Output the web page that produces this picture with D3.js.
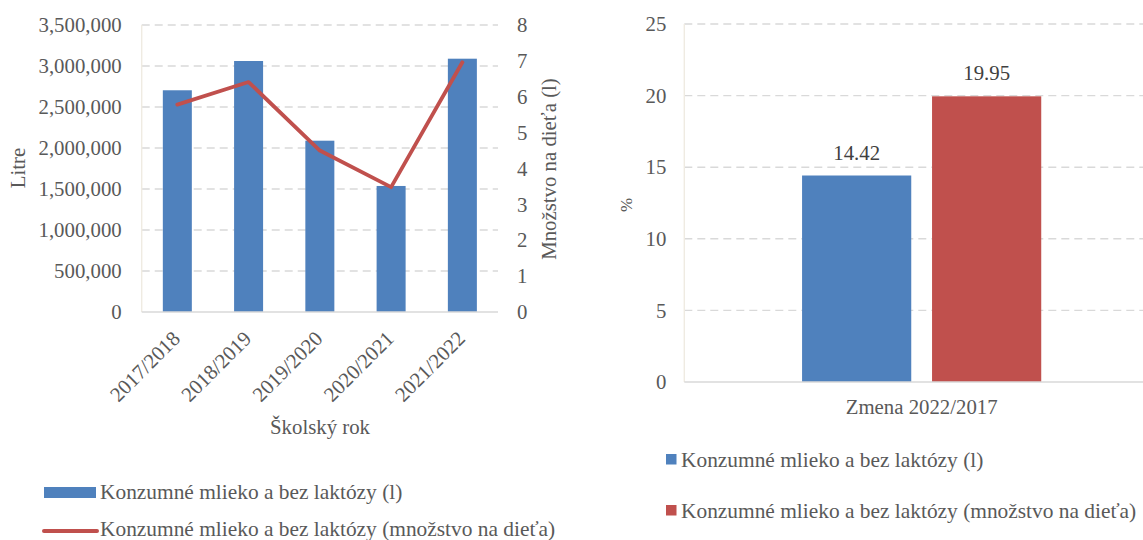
<!DOCTYPE html>
<html><head><meta charset="utf-8">
<script src="https://cdn.jsdelivr.net/npm/d3@7"></script>
<style>body{margin:0;background:#fff}svg{display:block}svg text{font-family:"Liberation Serif","Tinos","Times New Roman","DejaVu Serif",serif !important}</style>
</head><body>
<svg id="c" width="1143" height="540"></svg>
<script>
const years = ["2017/2018","2018/2019","2019/2020","2020/2021","2021/2022"];
const litres = [2704000,3061000,2089000,1537000,3089000];
const perChild = [5.78,6.41,4.50,3.48,6.96];
const leftTicks = [0,500000,1000000,1500000,2000000,2500000,3000000,3500000];
const rightTicks = [0,1,2,3,4,5,6,7,8];
const changeCats = ["Zmena 2022/2017"];
const changeSeries = ["Konzumné mlieko a bez laktózy (l)","Konzumné mlieko a bez laktózy (množstvo na dieťa)"];
const changeValues = [14.42,19.95];
const pctTicks = [0,5,10,15,20,25];

const BLUE="#4f81bd", RED="#c0504d", GRID="#d9d9d9", TXT="#595959", AXL="#efebe2";
const FF = '"Liberation Serif", Tinos, "Times New Roman", "DejaVu Serif", serif';
const FS = 20.8, FSLEG = 21.4;
const svg = d3.select("#c");

// ---- Left chart ----
const L = {x0:141.7, x1:498, y0:312, y1:25};
const xL = d3.scaleBand().domain(years).range([L.x0,L.x1]).paddingInner(0.593).paddingOuter(0.2965);
const yL = d3.scaleLinear().domain([0,3500000]).range([L.y0,L.y1]);
const yR = d3.scaleLinear().domain([0,8]).range([L.y0,L.y1]);
const gL = svg.append("g");
gL.selectAll("line.g").data(leftTicks.slice(1)).join("line")
  .attr("x1",L.x0).attr("x2",L.x1).attr("y1",d=>yL(d)).attr("y2",d=>yL(d))
  .attr("stroke",GRID).attr("stroke-width",1.4).attr("stroke-dasharray","8,5");
gL.append("line").attr("x1",L.x0).attr("x2",L.x0).attr("y1",L.y1).attr("y2",L.y0).attr("stroke",AXL).attr("stroke-width",1.4);
gL.selectAll("rect").data(litres).join("rect")
  .attr("x",(d,i)=>xL(years[i])).attr("width",xL.bandwidth())
  .attr("y",d=>yL(d)).attr("height",d=>L.y0-yL(d)).attr("fill",BLUE);
gL.append("line").attr("x1",L.x0).attr("x2",L.x1).attr("y1",L.y0).attr("y2",L.y0).attr("stroke",GRID).attr("stroke-width",1.4);
const line = d3.line().x((d,i)=>xL(years[i])+xL.bandwidth()/2).y(d=>yR(d));
gL.append("path").attr("d",line(perChild)).attr("fill","none").attr("stroke",RED).attr("stroke-width",3.8).attr("stroke-linejoin","round").attr("stroke-linecap","round");
const axL = d3.axisLeft(yL).tickValues(leftTicks).tickFormat(d3.format(",")).tickSize(0).tickPadding(20);
const gaL = gL.append("g").attr("transform",`translate(${L.x0},0)`).call(axL);
gaL.select(".domain").remove();
gaL.attr("font-family",FF);
gaL.selectAll("text").attr("font-size",FS).attr("fill",TXT);
const axR = d3.axisRight(yR).tickValues(rightTicks).tickSize(0).tickPadding(19);
const gaR = gL.append("g").attr("transform",`translate(${L.x1},0)`).call(axR);
gaR.select(".domain").remove();
gaR.attr("font-family",FF);
gaR.selectAll("text").attr("font-size",FS).attr("fill",TXT);
const axB = d3.axisBottom(xL).tickSize(0).tickPadding(0);
const gaB = gL.append("g").attr("transform",`translate(0,${L.y0})`).call(axB);
gaB.select(".domain").remove();
gaB.attr("font-family",FF);
gaB.selectAll("text").attr("font-size",FS).attr("fill",TXT)
  .attr("text-anchor","end").attr("dy",null).attr("y",0)
  .attr("transform","translate(4,28) rotate(-45)");
gL.append("text").attr("x",320).attr("y",434).attr("text-anchor","middle").attr("font-size",FS).attr("fill",TXT).text("Školský rok");
gL.append("text").attr("transform","translate(25,168) rotate(-90)").attr("text-anchor","middle").attr("font-size",FS).attr("fill",TXT).text("Litre");
gL.append("text").attr("transform","translate(556,169) rotate(-90)").attr("text-anchor","middle").attr("font-size",FS).attr("fill",TXT).text("Množstvo na dieťa (l)");
// left legend
gL.append("rect").attr("x",44).attr("y",487).attr("width",52).attr("height",11).attr("fill",BLUE);
gL.append("text").attr("x",100).attr("y",499).attr("font-size",FSLEG).attr("fill",TXT).text(changeSeries[0]);
gL.append("line").attr("x1",44).attr("x2",97).attr("y1",531).attr("y2",531).attr("stroke",RED).attr("stroke-width",4).attr("stroke-linecap","round");
gL.append("text").attr("x",100).attr("y",536).attr("font-size",FSLEG).attr("fill",TXT).text(changeSeries[1]);

// ---- Right chart ----
const R = {x0:684.3, x1:1159, y0:382, y1:24};
const xC = d3.scaleBand().domain(changeCats).range([R.x0,R.x1]);
const xS = d3.scaleBand().domain(changeSeries).range([0,xC.bandwidth()]).paddingInner(0.16).paddingOuter(0.906);
const yP = d3.scaleLinear().domain([0,25]).range([R.y0,R.y1]);
const gR = svg.append("g");
gR.selectAll("line.g").data(pctTicks.slice(1)).join("line")
  .attr("x1",R.x0).attr("x2",1143).attr("y1",d=>yP(d)).attr("y2",d=>yP(d))
  .attr("stroke",GRID).attr("stroke-width",1.4).attr("stroke-dasharray","8,5");
gR.append("line").attr("x1",R.x0).attr("x2",R.x0).attr("y1",R.y1).attr("y2",R.y0).attr("stroke",AXL).attr("stroke-width",1.4);
const colors=[BLUE,RED];
gR.selectAll("rect").data(changeValues).join("rect")
  .attr("x",(d,i)=>xC(changeCats[0])+xS(changeSeries[i])).attr("width",xS.bandwidth())
  .attr("y",d=>yP(d)).attr("height",d=>R.y0-yP(d)).attr("fill",(d,i)=>colors[i]);
gR.append("line").attr("x1",R.x0).attr("x2",1143).attr("y1",R.y0).attr("y2",R.y0).attr("stroke",GRID).attr("stroke-width",1.4);
gR.selectAll("text.v").data(changeValues).join("text")
  .attr("x",(d,i)=>xC(changeCats[0])+xS(changeSeries[i])+xS.bandwidth()/2)
  .attr("y",d=>yP(d)-16).attr("text-anchor","middle").attr("font-size",FS).attr("fill","#404040")
  .text(d=>d.toFixed(2));
const axP = d3.axisLeft(yP).tickValues(pctTicks).tickSize(0).tickPadding(18);
const gaP = gR.append("g").attr("transform",`translate(${R.x0},0)`).call(axP);
gaP.select(".domain").remove();
gaP.attr("font-family",FF);
gaP.selectAll("text").attr("font-size",FS).attr("fill",TXT);
const axC = d3.axisBottom(xC).tickSize(0).tickPadding(0);
const gaC = gR.append("g").attr("transform",`translate(0,${R.y0})`).call(axC);
gaC.select(".domain").remove();
gaC.attr("font-family",FF);
gaC.selectAll("text").attr("font-size",FS).attr("fill",TXT).attr("dy",null).attr("y",32);
gR.append("text").attr("transform","translate(632,205) rotate(-90)").attr("text-anchor","middle").attr("font-size",17).attr("fill",TXT).text("%");
changeSeries.forEach((s,i)=>{
  gR.append("rect").attr("x",666).attr("y",454+i*51).attr("width",10.5).attr("height",10.5).attr("fill",colors[i]);
  gR.append("text").attr("x",681).attr("y",467+i*51).attr("font-size",FSLEG).attr("fill",TXT).text(s);
});
</script>
</body></html>
